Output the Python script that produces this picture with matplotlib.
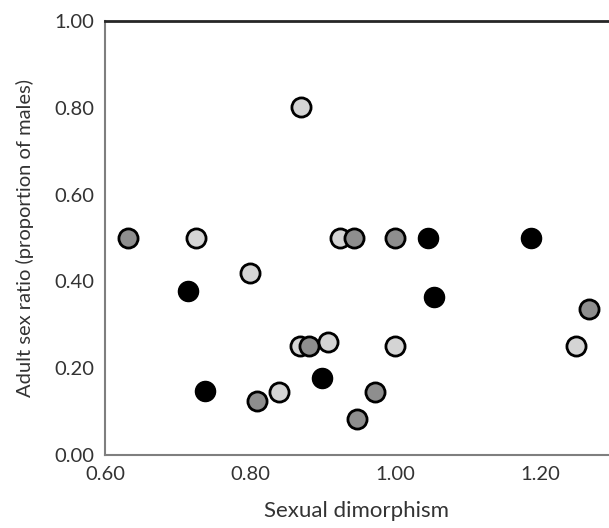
import matplotlib.pyplot as plt

plt.rcParams['font.family'] = ['Lato', 'DejaVu Sans']

# light grey group
light_x = [0.726, 0.924, 0.800, 0.869, 0.907, 0.840, 1.000, 1.250, 0.870]
light_y = [0.500, 0.500, 0.419, 0.251, 0.261, 0.144, 0.251, 0.251, 0.801]
# mid grey group
grey_x = [0.632, 0.943, 0.882, 0.810, 0.947, 0.972, 1.000, 1.267]
grey_y = [0.500, 0.500, 0.251, 0.125, 0.083, 0.144, 0.500, 0.336]
# black group
black_x = [0.714, 0.899, 0.738, 1.045, 1.188, 1.054]
black_y = [0.378, 0.177, 0.148, 0.500, 0.500, 0.365]

x_ticks = [0.60, 0.80, 1.00, 1.20]
y_ticks = [0.00, 0.20, 0.40, 0.60, 0.80, 1.00]

fig = plt.figure(figsize=(6.09, 5.28), dpi=100)
ax = fig.add_axes([0.1724, 0.1383, 0.8276, 0.8219])

ax.scatter(light_x, light_y, s=190, color='#d4d4d4', edgecolor='black', linewidth=2, zorder=3)
ax.scatter(grey_x, grey_y, s=190, color='#8e8e8e', edgecolor='black', linewidth=2, zorder=4)
ax.scatter(black_x, black_y, s=210, color='black', edgecolor='black', linewidth=1, zorder=5)

ax.set_xlim(0.6, 1.295)
ax.set_ylim(0, 1)
ax.set_xticks(x_ticks)
ax.set_xticklabels([f"{v:.2f}" for v in x_ticks])
ax.set_yticks(y_ticks)
ax.set_yticklabels([f"{v:.2f}" for v in y_ticks])
ax.tick_params(length=0, labelsize=14.5, colors='#333333', pad=8)

ax.spines['right'].set_visible(False)
ax.spines['left'].set_color('#7f7f7f')
ax.spines['left'].set_linewidth(1.5)
ax.spines['bottom'].set_color('#7f7f7f')
ax.spines['bottom'].set_linewidth(1.5)
ax.spines['top'].set_color('#262626')
ax.spines['top'].set_linewidth(2)

ax.set_xlabel('Sexual dimorphism', fontsize=16, color='#333333', labelpad=13)
ax.set_ylabel('Adult sex ratio (proportion of males)', fontsize=14.5, color='#333333', labelpad=14)

fig.savefig('out.png', dpi=100)
